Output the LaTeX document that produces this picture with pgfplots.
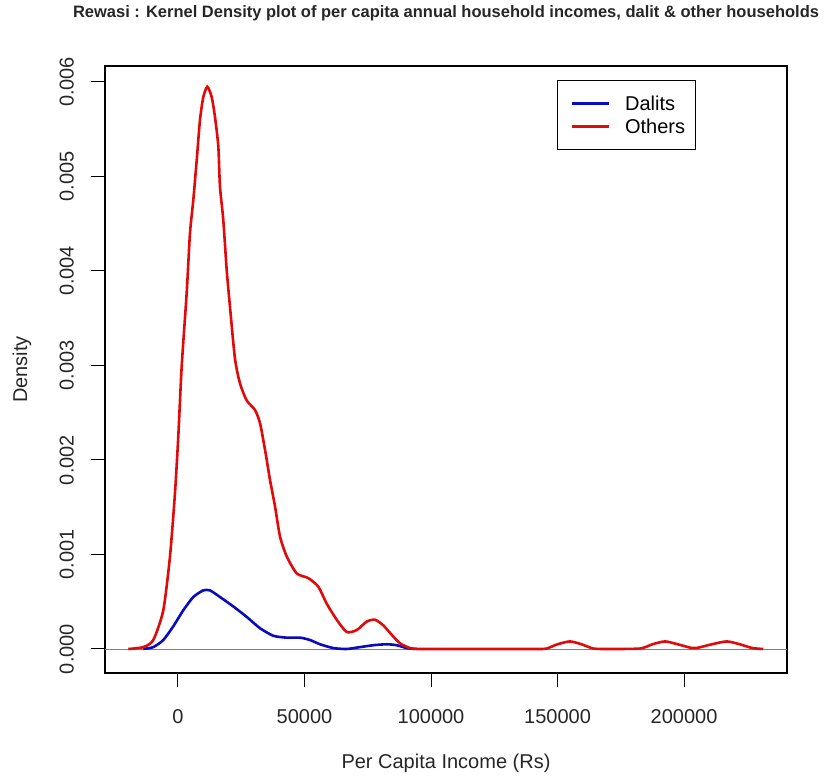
\documentclass[border=0pt]{standalone}
\usepackage{pgfplots}
\pgfplotsset{compat=1.18}
\usepackage{fontspec}
\setmainfont{Liberation Sans}
\definecolor{rred}{RGB}{225,10,10}
\definecolor{rblue}{RGB}{10,10,190}
\begin{document}
\begin{tikzpicture}
\begin{axis}[
  scale only axis, width=682pt, height=607pt,
  xmin=-28850, xmax=240700, ymin=-0.000254, ymax=0.006169,
  axis line style={line width=1.2pt},
  tick align=outside, xtick pos=bottom, ytick pos=left,
  major tick length=14pt,
  tick style={line width=1pt, black},
  xtick={0,50000,100000,150000,200000},
  xticklabels={0,50000,100000,150000,200000},
  ytick={0,0.001,0.002,0.003,0.004,0.005,0.006},
  yticklabels={0.000,0.001,0.002,0.003,0.004,0.005,0.006},
  scaled ticks=false,
  ticklabel style={font=\fontsize{20}{24}\selectfont, color=black!85},
  xticklabel style={anchor=north, inner sep=0pt, yshift=-22pt},
  yticklabel style={rotate=90, anchor=south, inner sep=0pt, yshift=17pt},
  xlabel={Per Capita Income (Rs)},
  ylabel={Density},
  label style={font=\fontsize{20}{24}\selectfont, color=black!85},
  xlabel style={at={(axis description cs:0.5,0)}, anchor=center, yshift=-90pt},
  ylabel style={at={(axis description cs:0,0.5)}, anchor=center, yshift=83pt},
  title={Rewasi : Kernel Density plot of per capita annual household incomes, dalit \& other households},
  title style={at={(axis description cs:0.5,1)}, anchor=center, yshift=47pt, font=\bfseries\fontsize{16.5}{18}\selectfont, color=black!85},
  legend cell align=left,
  legend style={at={(axis cs:149800,0.00602)}, anchor=north west, draw=black, line width=1pt,
    font=\fontsize{20}{23}\selectfont, inner xsep=8pt, inner ysep=13pt, row sep=3pt},
  legend image code/.code={\draw[#1] (5pt,0pt) -- (42pt,0pt); \path (0pt,0pt) (55pt,0pt);},
]
\addplot[gray, line width=0.8pt, forget plot] coordinates {(-28850,0) (240700,0)};
\addplot[rblue, line width=2.6pt, smooth, tension=0.4] coordinates {
(-13720,0) (-9760,0.00002) (-5810,0.000095) (-1860,0.00024) (2100,0.00041)
(6050,0.00055) (10000,0.00062) (12650,0.00062) (16600,0.00055) (21860,0.00045)
(27150,0.00034) (32410,0.00022) (37670,0.00014) (42960,0.00012) (48220,0.00012)
(52170,0.000095) (56130,0.00005) (61380,0.00001) (66680,0) (71940,0.00002)
(77200,0.00004) (82490,0.00005) (86440,0.00004) (90400,0.00001) (94350,0)
};
\addlegendentry{Dalits}
\addplot[rred, line width=2.6pt, smooth, tension=0.4] coordinates {
(-19640,0) (-13720,0.00002) (-9760,0.000095) (-5810,0.00041) (-3160,0.00098)
(-1190,0.00165) (120,0.00225) (1460,0.00299) (3440,0.00377) (4740,0.00440)
(6050,0.00475) (7390,0.00517) (8700,0.00560) (10000,0.00584) (11580,0.00595)
(13320,0.00584) (14620,0.00563) (15930,0.00532) (16600,0.00489) (17900,0.00454)
(19250,0.00401) (20550,0.00362) (22530,0.00307) (24510,0.00281) (27150,0.00263)
(30430,0.00253) (32410,0.00239) (34390,0.00211) (36360,0.00179) (38340,0.00151)
(40320,0.00119) (42960,0.00098) (46920,0.00080) (51500,0.00075) (55450,0.00066)
(58770,0.00048) (62730,0.00031) (66680,0.00018) (70630,0.00020) (74590,0.00029)
(77870,0.00031) (81150,0.00025) (84470,0.00015) (87750,0.00006) (91700,0.00001)
(95700,0) (120000,0) (142000,0) (145700,0.000005) (150000,0.00005) (154900,0.00008)
(159500,0.00005) (164150,0.000005) (170000,0) (182600,0.000005) (187500,0.00005)
(192500,0.00008) (197500,0.00005) (203000,0.00001) (205000,0.00001) (211000,0.00005)
(216900,0.00008) (222000,0.00005) (227000,0.00001) (231300,0)
};
\addlegendentry{Others}
\end{axis}
\path[use as bounding box] ([shift={(-105pt,-110pt)}]current axis.south west) rectangle ([shift={(40pt,66pt)}]current axis.north east);
\end{tikzpicture}
\end{document}
